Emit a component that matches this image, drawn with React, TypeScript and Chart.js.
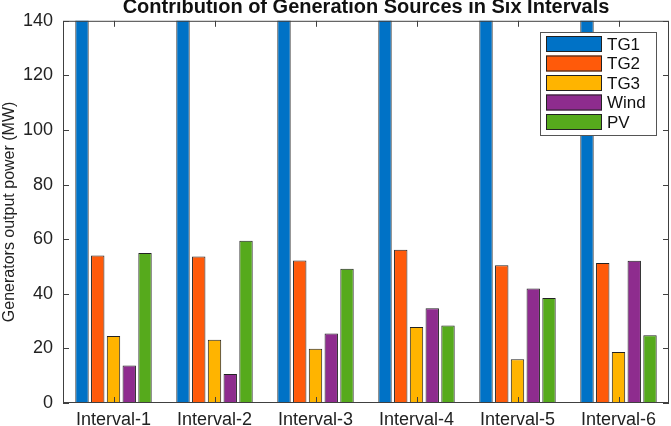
import React, { useEffect, useRef } from 'react';
import { Chart, registerables } from 'chart.js';

Chart.register(...registerables);

const categories = ['Interval-1', 'Interval-2', 'Interval-3', 'Interval-4', 'Interval-5', 'Interval-6'];
const seriesNames = ['TG1', 'TG2', 'TG3', 'Wind', 'PV'];
// TG1 runs off the top of the axis in every interval
const tg1 = [180, 180, 180, 180, 180, 180];
const tg2 = [54.0, 53.7, 52.2, 56.1, 50.5, 51.3];
const tg3 = [24.5, 23.2, 19.9, 27.8, 16.0, 18.7];
const wind = [13.7, 10.6, 25.5, 34.7, 41.9, 52.1];
const pv = [54.9, 59.4, 49.2, 28.4, 38.5, 24.8];
const yTicks = [0, 20, 40, 60, 80, 100, 120, 140];
const titleText = 'Contribution of Generation Sources in Six Intervals';

const colors = ['#0072C6', '#FF5A0A', '#FFB400', '#8E2C8E', '#56AA1C'];
const FONT = '"Liberation Sans", Arial, Helvetica, sans-serif';
const AXIS = '#404040';

// MATLAB-like box with inward ticks, the title over the axes and the legend inside them
const boxPlugin = {
  id: 'matlabBox',
  afterDatasetsDraw(chart: any) {
    const { ctx, chartArea: a, scales } = chart;
    ctx.save();
    ctx.strokeStyle = AXIS;
    ctx.lineWidth = 1;
    ctx.strokeRect(a.left + 0.5, a.top + 0.5, a.right - a.left - 1, a.bottom - a.top - 1);
    const len = 6;
    ctx.beginPath();
    yTicks.forEach((v) => {
      const y = Math.round(scales.y.getPixelForValue(v)) + 0.5;
      ctx.moveTo(a.left, y);
      ctx.lineTo(a.left + len, y);
      ctx.moveTo(a.right, y);
      ctx.lineTo(a.right - len, y);
    });
    categories.forEach((_, i) => {
      const x = Math.round(scales.x.getPixelForValue(i)) + 0.5;
      ctx.moveTo(x, a.bottom);
      ctx.lineTo(x, a.bottom - len);
      ctx.moveTo(x, a.top);
      ctx.lineTo(x, a.top + len);
    });
    ctx.stroke();

    // title, centred over the axes as MATLAB does
    ctx.fillStyle = '#111111';
    ctx.font = `bold 20px ${FONT}`;
    ctx.textAlign = 'center';
    ctx.textBaseline = 'alphabetic';
    ctx.fillText(titleText, (a.left + a.right) / 2, 12.5);

    // legend
    const lx = 540;
    const ly = 32;
    const lw = 116;
    const lh = 103;
    ctx.textAlign = 'left';
    ctx.fillStyle = '#ffffff';
    ctx.fillRect(lx, ly, lw, lh);
    ctx.strokeStyle = '#555555';
    ctx.strokeRect(lx + 0.5, ly + 0.5, lw, lh);
    ctx.font = `17px ${FONT}`;
    ctx.textBaseline = 'middle';
    chart.data.datasets.forEach((ds: any, i: number) => {
      const sy = ly + 4 + i * 19.5;
      ctx.fillStyle = ds.backgroundColor;
      ctx.fillRect(lx + 6, sy, 56, 16);
      ctx.strokeStyle = '#222222';
      ctx.strokeRect(lx + 6.5, sy + 0.5, 55, 15);
      ctx.fillStyle = '#111111';
      ctx.fillText(ds.label, lx + 67, sy + 9);
    });
    ctx.restore();
  },
};

export default function App() {
  const chartRef = useRef<HTMLCanvasElement>(null);
  const chartInstance = useRef<Chart | null>(null);

  useEffect(() => {
    document.body.style.margin = '0';
    if (!chartRef.current) return;
    const ctx = chartRef.current.getContext('2d');
    if (!ctx) return;
    if (chartInstance.current) chartInstance.current.destroy();

    const values = [tg1, tg2, tg3, wind, pv];
    chartInstance.current = new Chart(ctx, {
      type: 'bar',
      data: {
        labels: categories,
        datasets: seriesNames.map((name, i) => ({
          label: name,
          data: values[i],
          backgroundColor: colors[i],
          borderColor: '#222222',
          borderWidth: 1,
          borderSkipped: false,
          categoryPercentage: 0.78,
          barPercentage: 0.85,
        })),
      },
      options: {
        animation: false,
        responsive: false,
        devicePixelRatio: 1,
        layout: { padding: { left: 0, right: 2, top: 20, bottom: 0 } },
        plugins: {
          legend: { display: false },
          tooltip: { enabled: false },
          title: { display: false },
        },
        scales: {
          x: {
            grid: { display: false, drawTicks: false },
            border: { display: false },
            ticks: { color: '#222222', padding: 6, font: { family: FONT, size: 18 } },
            afterFit: (s: any) => {
              s.height = 23;
            },
          },
          y: {
            min: 0,
            max: 140,
            grid: { display: false, drawTicks: false },
            border: { display: false },
            ticks: {
              stepSize: 20,
              color: '#222222',
              padding: 10,
              font: { family: FONT, size: 18 },
            },
            title: {
              display: true,
              text: 'Generators output power (MW)',
              color: '#222222',
              font: { family: FONT, size: 16 },
              padding: { top: 0, bottom: 0 },
            },
            afterFit: (s: any) => {
              s.width = 63;
            },
          },
        },
      },
      plugins: [boxPlugin],
    });

    return () => {
      if (chartInstance.current) {
        chartInstance.current.destroy();
        chartInstance.current = null;
      }
    };
  }, []);

  return (
    <div style={{ width: 671, height: 426 }}>
      <canvas ref={chartRef} width={671} height={426}></canvas>
    </div>
  );
}
